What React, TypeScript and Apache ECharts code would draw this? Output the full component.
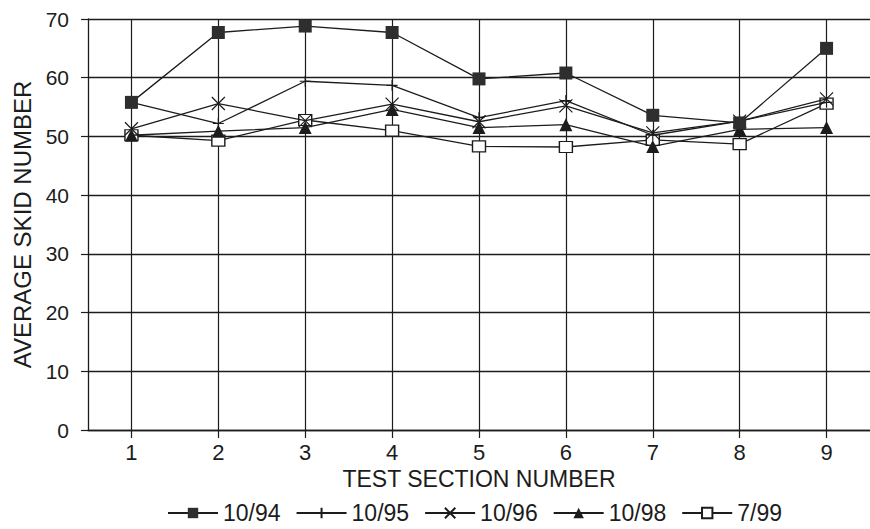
import React, { useEffect, useRef } from "react";
import * as echarts from "echarts";

const categories = ["1", "2", "3", "4", "5", "6", "7", "8", "9"];
const seriesNames = ["10/94", "10/95", "10/96", "10/98", "7/99"];
const s1094 = [55.8, 67.7, 68.8, 67.7, 59.8, 60.8, 53.6, 52.3, 65.0];
const s1095 = [55.8, 52.2, 59.4, 58.7, 53.2, 56.1, 50.2, 52.6, 55.8];
const s1096 = [51.3, 55.6, 52.7, 55.5, 52.5, 55.2, 50.6, 52.6, 56.4];
const s1098 = [50.2, 50.9, 51.5, 54.6, 51.5, 52.0, 48.3, 51.2, 51.5];
const s799 = [50.2, 49.3, 52.8, 51.0, 48.3, 48.2, 49.4, 48.7, 55.6];
const yMin = 0;
const yMax = 70;
const yInterval = 10;

const FONT = "'Liberation Sans', Arial, Helvetica, sans-serif";
const INK = "#1c1c1c";

export default function App() {
  const ref = useRef<HTMLDivElement>(null);
  useEffect(() => {
    if (!ref.current) return;
    const chart = echarts.init(ref.current, undefined, { renderer: "svg" });
    const lineStyle = { color: INK, width: 1.3 };
    chart.setOption({
      animation: false,
      backgroundColor: "#ffffff",
      grid: { left: 88, right: 0, top: 19, bottom: 99, containLabel: false },
      legend: {
        data: seriesNames,
        left: 163,
        top: 497,
        padding: 4,
        itemWidth: 50,
        itemHeight: 13,
        itemGap: 15,
        textStyle: { fontFamily: FONT, fontSize: 23, color: INK, lineHeight: 24 },
      },
      xAxis: {
        type: "category",
        data: categories,
        boundaryGap: true,
        name: "TEST SECTION NUMBER",
        nameLocation: "middle",
        nameGap: 36,
        nameTextStyle: { fontFamily: FONT, fontSize: 23, color: INK },
        axisLine: { show: true, lineStyle: { color: INK, width: 1.4 } },
        axisTick: { show: true, alignWithLabel: true, length: 8, lineStyle: { color: INK, width: 1.2 } },
        axisLabel: { fontFamily: FONT, fontSize: 22, color: INK, margin: 11 },
        splitLine: { show: true, alignWithLabel: true, lineStyle: { color: INK, width: 1.2 } },
      },
      yAxis: {
        type: "value",
        min: yMin,
        max: yMax,
        interval: yInterval,
        name: "AVERAGE SKID NUMBER",
        nameLocation: "middle",
        nameGap: 52,
        nameRotate: 90,
        nameTextStyle: { fontFamily: FONT, fontSize: 24, color: INK },
        axisLine: { show: true, lineStyle: { color: INK, width: 1.3 } },
        axisTick: { show: true, length: 7, lineStyle: { color: INK, width: 1.2 } },
        axisLabel: { fontFamily: FONT, fontSize: 21, color: INK, margin: 19 },
        splitLine: { show: true, lineStyle: { color: INK, width: 1.3 } },
      },
      series: [
        {
          name: "10/94",
          type: "line",
          data: s1094,
          symbol: "rect",
          symbolSize: 13,
          itemStyle: { color: "#2e2e2e", borderColor: "#2e2e2e", borderWidth: 0 },
          lineStyle,
          z: 5,
        },
        {
          name: "10/95",
          type: "line",
          data: s1095,
          symbol: "path://M5 0L5 10M0 5L10 5",
          symbolSize: 11,
          itemStyle: { color: INK, borderColor: INK, borderWidth: 1.2 },
          lineStyle,
          z: 4,
        },
        {
          name: "10/96",
          type: "line",
          data: s1096,
          symbol: "path://M0 0L10 10M10 0L0 10",
          symbolSize: 13,
          itemStyle: { color: INK, borderColor: INK, borderWidth: 1.2 },
          lineStyle,
          z: 4,
        },
        {
          name: "10/98",
          type: "line",
          data: s1098,
          symbol: "triangle",
          symbolSize: 13,
          itemStyle: { color: INK, borderColor: INK, borderWidth: 0 },
          lineStyle,
          z: 4,
        },
        {
          name: "7/99",
          type: "line",
          data: s799,
          symbol: "rect",
          symbolSize: [13, 11],
          itemStyle: { color: "#ffffff", borderColor: INK, borderWidth: 1.3 },
          lineStyle,
          z: 3,
        },
      ],
    });
    return () => chart.dispose();
  }, []);
  return (
    <div
      ref={ref}
      style={{ position: "fixed", left: 0, top: 0, width: 870, height: 529, background: "#fff" }}
    />
  );
}
